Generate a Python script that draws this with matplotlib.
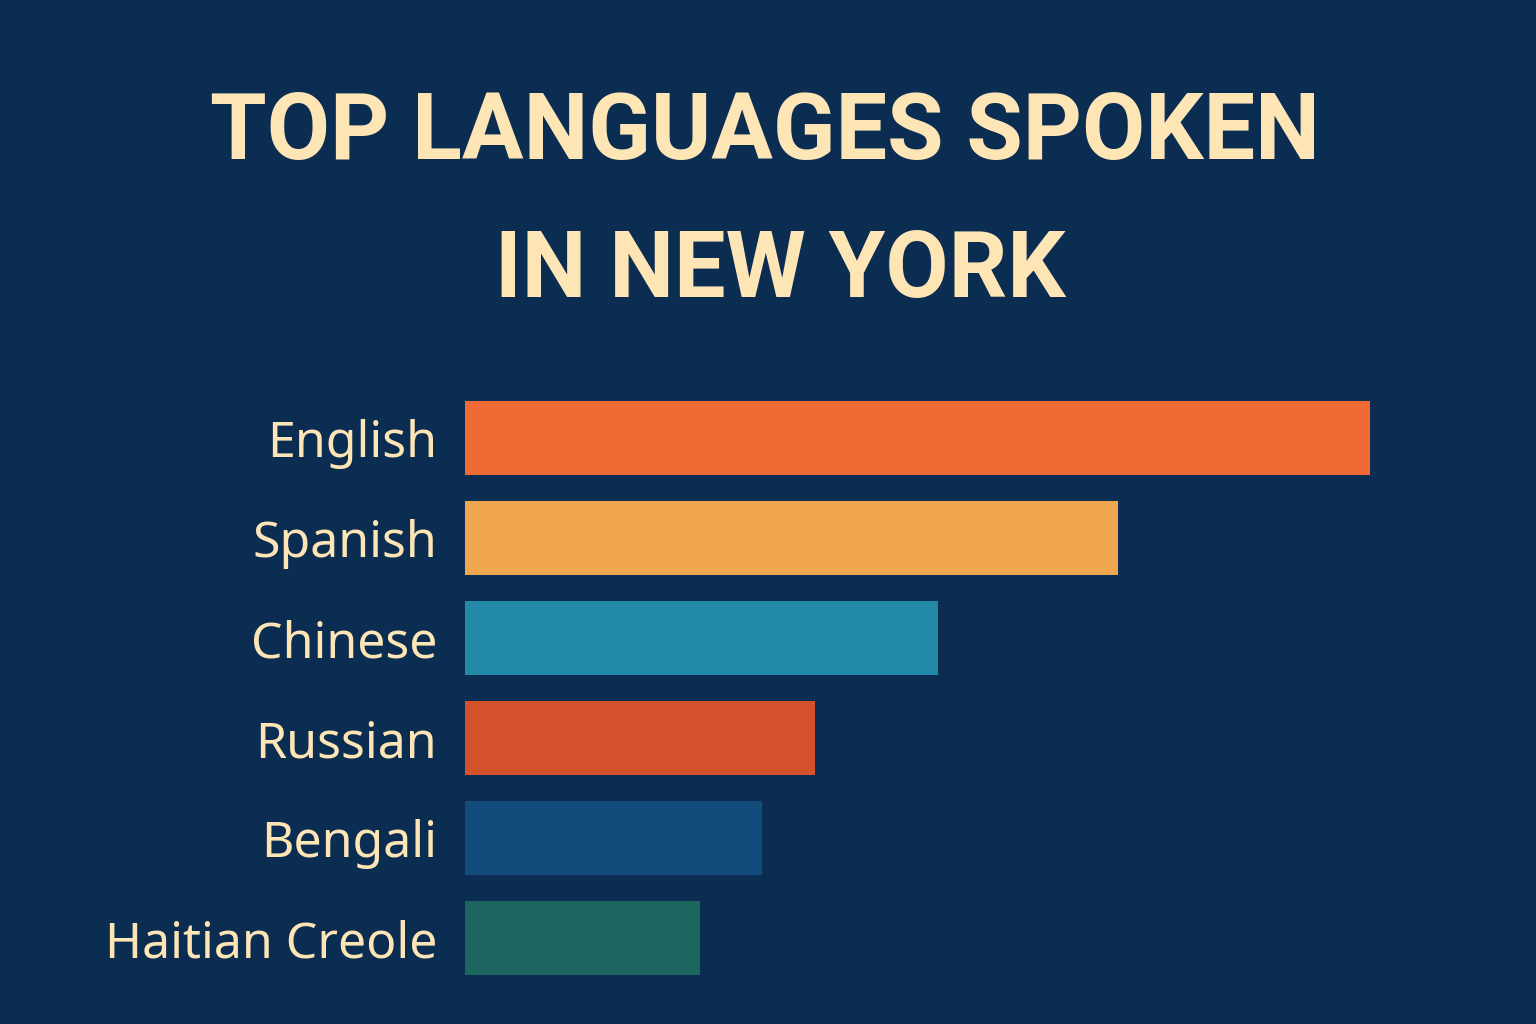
import matplotlib
matplotlib.use("Agg")
import matplotlib.pyplot as plt

languages = ["English", "Spanish", "Chinese", "Russian", "Bengali", "Haitian Creole"]
values = [905, 653, 473, 350, 297, 235]
colors = ["#F06A36", "#F0A64E", "#2289A8", "#D4522B", "#134B7C", "#1D665F"]

bg = "#0C2D52"
cream = "#FDE5B6"

fig = plt.figure(figsize=(15.36, 10.24), dpi=100, facecolor=bg)
tfam = ["Roboto", "DejaVu Sans"]
fig.text(0.498, 1 - 133/1024, "TOP LANGUAGES SPOKEN", ha="center", va="center",
         color=cream, fontsize=66, fontweight="bold", family=tfam)
fig.text(0.508, 1 - 272/1024, "IN NEW YORK", ha="center", va="center",
         color=cream, fontsize=66, fontweight="bold", family=tfam)

ax = fig.add_axes([465/1536, 36/1024, 905/1536, 600/1024])
ax.set_facecolor(bg)
ypos = list(range(len(languages)))
ax.barh(ypos, values, height=0.74, color=colors, left=0)
ax.set_xlim(0, max(values))
ax.set_ylim(len(languages) - 0.5, -0.5)
ax.set_yticks(ypos)
ax.set_yticklabels(languages, fontsize=36, color=cream, family=["Noto Sans"])
ax.tick_params(axis="y", length=0, pad=20)
ax.set_xticks([])
for s in ax.spines.values():
    s.set_visible(False)

fig.savefig("out.png", facecolor=bg)
